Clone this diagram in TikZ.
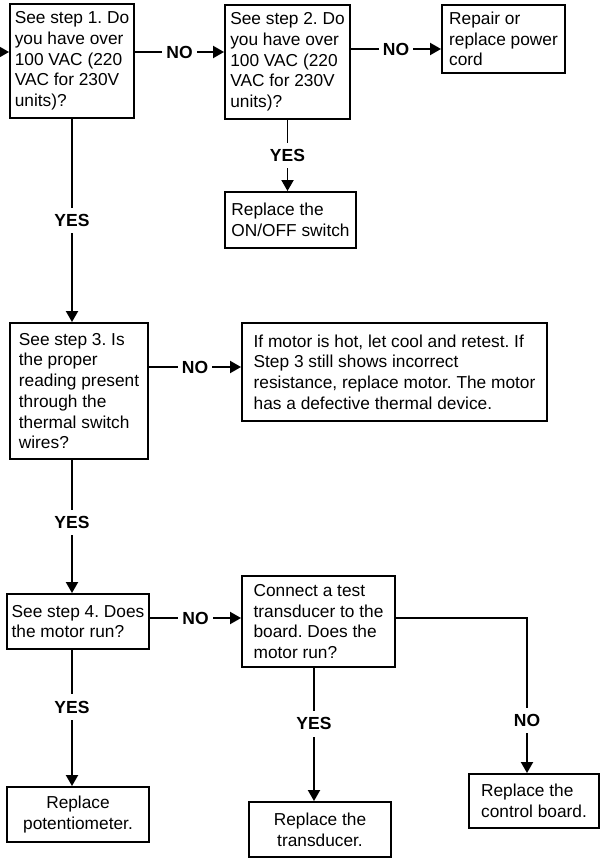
\documentclass[tikz,border=0pt]{standalone}
\usepackage{fontspec}
\setmainfont{Liberation Sans}
\usetikzlibrary{arrows.meta}
\frenchspacing

\begin{document}
\begin{tikzpicture}[
    x=1pt, y=-1pt,
    font=\fontsize{17.3}{20.7}\selectfont,
    box/.style={draw, rectangle, line width=1.9pt, align=left, inner sep=0pt},
    cbox/.style={box, align=center},
    arr/.style={-{Triangle[width=12pt,length=11pt]}, line width=1.9pt},
    lbl/.style={fill=white, inner xsep=4pt, inner ysep=6.5pt,
                font=\fontsize{17.5}{20}\selectfont\bfseries},
  ]
  \useasboundingbox (0,0) rectangle (601,858);

  %% ================================================================
  %% Steps 1 and 2: supply voltage
  %% ================================================================
  \coordinate (feed) at (0,52);

  \node[box, minimum width=124pt, minimum height=114pt] (s1) at (72,61)
    {See step 1. Do\\you have over\\100 VAC (220\\VAC for 230V\\units)?};
  \node[box, minimum width=125pt, minimum height=114pt] (s2) at (287.5,62)
    {See step 2. Do\\you have over\\100 VAC (220\\VAC for 230V\\units)?};
  \node[box, minimum width=123pt, minimum height=68pt] (cord) at (503.5,39)
    {Repair or\\replace power\\cord};
  \node[box, minimum width=131pt, minimum height=56pt] (onoff) at (290.5,220)
    {Replace the\\ON/OFF switch};

  \draw[arr] (feed) -- (feed -| s1.west);
  \draw[arr] ([yshift=9pt]s1.east) -- node[lbl]{NO} ([yshift=9pt]s1.east -| s2.west);
  \draw[arr] ([yshift=13pt]s2.east) -- node[lbl]{NO} ([yshift=13pt]s2.east -| cord.west);
  \draw[arr] (s2.south) -- node[lbl]{YES} (s2.south |- onoff.north);

  %% ================================================================
  %% Step 3: thermal switch
  %% ================================================================
  \node[box, minimum width=138pt, minimum height=136pt] (s3) at (79,391)
    {See step 3. Is\\the proper\\reading present\\through the\\thermal switch\\wires?};
  \node[box, minimum width=305pt, minimum height=98pt] (hot) at (394.5,372)
    {If motor is hot, let cool and retest. If\\Step 3 still shows incorrect\\resistance, replace motor. The motor\\has a defective thermal device.};

  \draw[arr] (s1.south) -- node[lbl]{YES} (s1.south |- s3.north);
  \draw[arr] ([yshift=24pt]s3.east) -- node[lbl]{NO} ([yshift=24pt]s3.east -| hot.west);

  %% ================================================================
  %% Step 4: motor run
  %% ================================================================
  \node[box, minimum width=142pt, minimum height=55pt] (s4) at (78,621.5)
    {See step 4. Does\\the motor run?};
  \node[box, minimum width=153pt, minimum height=91pt] (conn) at (318.5,621.5)
    {Connect a test\\transducer to the\\board. Does the\\motor run?};
  \node[cbox, minimum width=142pt, minimum height=55pt] (pot) at (78,814.5)
    {Replace\\potentiometer.};
  \node[cbox, minimum width=142pt, minimum height=55pt] (trans) at (320,829.5)
    {Replace the\\transducer.};
  \node[box, minimum width=130pt, minimum height=54pt] (ctrl) at (534,801)
    {Replace the\\control board.};

  \draw[arr] (s1.south |- s3.south) -- node[lbl, pos=0.47]{YES} (s1.south |- s4.north);
  \draw[arr] ([yshift=3.5pt]s4.east) -- node[lbl]{NO} ([yshift=3.5pt]s4.east -| conn.west);
  \draw[arr] (s1.south |- s4.south) -- node[lbl, pos=0.42]{YES} (s1.south |- pot.north);
  \draw[arr] ([xshift=-4.5pt]conn.south) -- node[lbl, pos=0.42]{YES}
    ([xshift=-4.5pt]conn.south |- trans.north);
  \draw[arr] ([yshift=3.5pt]conn.east) -| node[lbl, pos=0.83]{NO} ([xshift=-7pt]ctrl.north);

\end{tikzpicture}
\end{document}
